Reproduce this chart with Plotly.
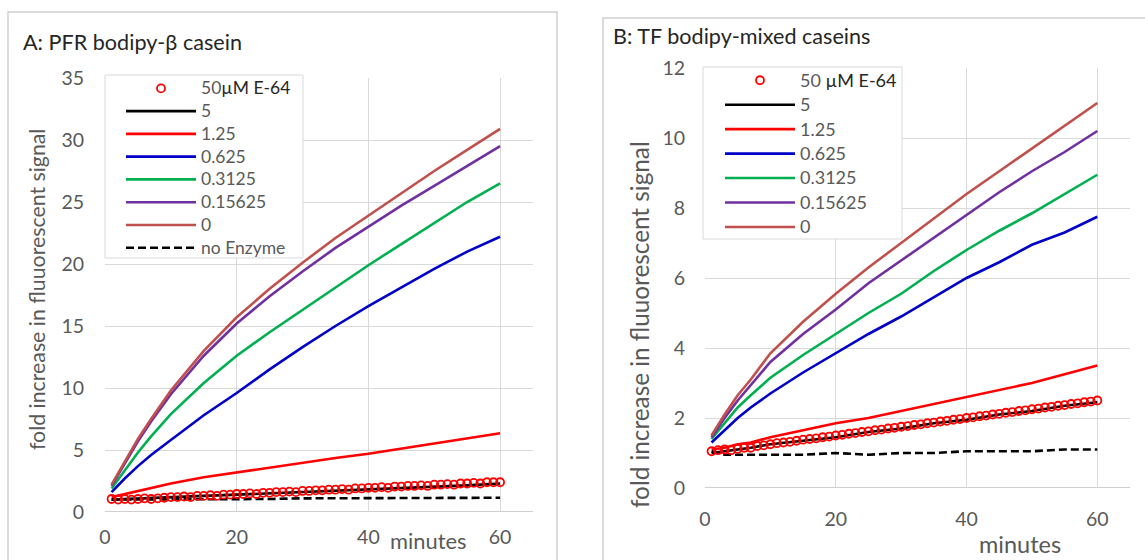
import plotly.graph_objects as go

# ---------------- data ----------------
minutes_lines = [1, 3, 5, 7, 10, 15, 20, 25, 30, 35, 40, 45, 50, 55, 60]
minutes_circles = list(range(1, 61))

series_names = ["5", "1.25", "0.625", "0.3125", "0.15625", "0"]
series_colors = ["#000000", "#FF0000", "#0000C8", "#00B050", "#7030A0", "#C0504D"]

# Panel A: PFR bodipy-beta casein
a_5 = [1.0, 1.05, 1.1, 1.15, 1.2, 1.3, 1.4, 1.5, 1.6, 1.7, 1.85, 1.95, 2.05, 2.15, 2.3]
a_1_25 = [1.2, 1.45, 1.7, 1.95, 2.3, 2.8, 3.2, 3.55, 3.95, 4.35, 4.7, 5.1, 5.5, 5.9, 6.35]
a_0_625 = [1.6, 2.7, 3.7, 4.6, 5.8, 7.8, 9.6, 11.5, 13.3, 15.0, 16.6, 18.1, 19.6, 21.0, 22.2]
a_0_3125 = [1.9, 3.4, 4.8, 6.1, 7.9, 10.4, 12.6, 14.5, 16.3, 18.1, 19.9, 21.6, 23.3, 25.0, 26.5]
a_0_15625 = [2.1, 3.9, 5.7, 7.3, 9.5, 12.6, 15.2, 17.4, 19.4, 21.3, 23.0, 24.7, 26.3, 27.9, 29.5]
a_0 = [2.2, 4.1, 5.9, 7.5, 9.8, 13.0, 15.7, 18.0, 20.1, 22.1, 23.9, 25.7, 27.5, 29.2, 30.9]
a_no_enzyme = [1.0, 1.0, 1.0, 1.0, 1.0, 1.05, 1.05, 1.05, 1.1, 1.1, 1.1, 1.1, 1.15, 1.15, 1.15]
a_e64 = [1.05, 1.0, 1.05, 1.0, 1.05, 1.1, 1.05, 1.1, 1.15, 1.2,
         1.2, 1.25, 1.2, 1.3, 1.3, 1.35, 1.3, 1.4, 1.4, 1.45,
         1.45, 1.5, 1.45, 1.55, 1.55, 1.6, 1.6, 1.65, 1.6, 1.7,
         1.7, 1.75, 1.75, 1.8, 1.8, 1.85, 1.8, 1.9, 1.9, 1.95,
         1.95, 2.0, 1.95, 2.05, 2.05, 2.1, 2.1, 2.15, 2.1, 2.2,
         2.2, 2.25, 2.2, 2.3, 2.3, 2.35, 2.3, 2.4, 2.4, 2.4]

# Panel B: TF bodipy-mixed caseins
b_5 = [1.0, 1.05, 1.1, 1.15, 1.25, 1.35, 1.45, 1.6, 1.7, 1.85, 1.95, 2.1, 2.2, 2.35, 2.45]
b_1_25 = [1.1, 1.15, 1.25, 1.3, 1.45, 1.65, 1.85, 2.0, 2.2, 2.4, 2.6, 2.8, 3.0, 3.25, 3.5]
b_0_625 = [1.3, 1.65, 2.0, 2.3, 2.7, 3.3, 3.85, 4.4, 4.9, 5.45, 6.0, 6.45, 6.95, 7.3, 7.75]
b_0_3125 = [1.4, 1.85, 2.3, 2.65, 3.15, 3.8, 4.4, 5.0, 5.55, 6.2, 6.8, 7.35, 7.85, 8.4, 8.95]
b_0_15625 = [1.45, 2.0, 2.5, 2.95, 3.6, 4.4, 5.1, 5.85, 6.5, 7.15, 7.8, 8.45, 9.05, 9.6, 10.2]
b_0 = [1.5, 2.1, 2.65, 3.1, 3.85, 4.75, 5.55, 6.3, 7.0, 7.7, 8.4, 9.05, 9.7, 10.35, 11.0]
b_no_enzyme = [1.05, 0.95, 0.95, 0.95, 0.95, 0.95, 1.0, 0.95, 1.0, 1.0, 1.05, 1.05, 1.05, 1.1, 1.1]
b_e64 = [1.05, 1.08, 1.1, 1.08, 1.12, 1.15, 1.15, 1.2, 1.22, 1.25,
         1.28, 1.3, 1.32, 1.35, 1.38, 1.4, 1.42, 1.45, 1.47, 1.5,
         1.52, 1.55, 1.57, 1.6, 1.62, 1.65, 1.67, 1.7, 1.72, 1.75,
         1.77, 1.8, 1.82, 1.85, 1.87, 1.9, 1.92, 1.95, 1.97, 2.0,
         2.02, 2.05, 2.07, 2.1, 2.12, 2.15, 2.17, 2.2, 2.22, 2.25,
         2.27, 2.3, 2.32, 2.35, 2.37, 2.4, 2.42, 2.45, 2.47, 2.5]

a_lines = [a_5, a_1_25, a_0_625, a_0_3125, a_0_15625, a_0]
b_lines = [b_5, b_1_25, b_0_625, b_0_3125, b_0_15625, b_0]

a_ticks_y = [0, 5, 10, 15, 20, 25, 30, 35]
b_ticks_y = [0, 2, 4, 6, 8, 10, 12]
ticks_x = [0, 20, 40, 60]

W, H = 1145, 560
FONT = "Lato"
GRAY = "#595959"
DARK = "#262626"
GRID = "#D9D9D9"


def px_x(p):
    return p / W


def px_y(p):
    return 1 - p / H


def big(txt, size):
    return "<span style='font-size:%spx'>%s</span>" % (size, txt)


fig = go.Figure()

panels = [
    ("x", "y", "legend", a_lines, a_no_enzyme, a_e64,
     "50<span style='color:#262626'>µM E-64</span>", True, 17.5),
    ("x2", "y2", "legend2", b_lines, b_no_enzyme, b_e64,
     "50 <span style='color:#262626'>µM E-64</span>", False, 18),
]

for xa, ya, lg, lines, noenz, e64, e64name, show_noenz, lfs in panels:
    for i, (name, col, vals) in enumerate(zip(series_names, series_colors, lines)):
        fig.add_trace(go.Scatter(
            x=minutes_lines, y=vals, mode="lines", name=big(name, lfs),
            line=dict(color=col, width=2.6), xaxis=xa, yaxis=ya,
            legend=lg, legendrank=10 + i))
    fig.add_trace(go.Scatter(
        x=minutes_lines, y=noenz, mode="lines", name=big("no Enzyme", lfs),
        line=dict(color="#000000", width=2.6, dash="8px,4px"), xaxis=xa, yaxis=ya,
        legend=lg, legendrank=30, showlegend=show_noenz))
    fig.add_trace(go.Scatter(
        x=minutes_circles, y=e64, mode="markers", name=big(e64name, lfs),
        marker=dict(symbol="circle-open", size=8, color="#FF0000", line=dict(width=1.8)),
        xaxis=xa, yaxis=ya, legend=lg, legendrank=1))

axis_common = dict(showgrid=True, gridcolor=GRID, gridwidth=1, zeroline=False,
                   showline=False, ticks="outside", tickcolor="rgba(0,0,0,0)",
                   color=GRAY, fixedrange=True, tickfont=dict(size=19.5))

fig.update_layout(
    width=W, height=H,
    margin=dict(l=0, r=0, t=0, b=0, pad=0, autoexpand=False),
    paper_bgcolor="white", plot_bgcolor="white",
    font=dict(family=FONT, color=GRAY, size=17),
    xaxis=dict(domain=[px_x(105), px_x(533)], range=[0, 65], tickvals=ticks_x,
               anchor="y", ticklen=8, **axis_common),
    yaxis=dict(domain=[px_y(512), px_y(78)], range=[0, 35], tickvals=a_ticks_y,
               anchor="x", ticklen=16, **axis_common),
    xaxis2=dict(domain=[px_x(705), px_x(1130)], range=[0, 65], tickvals=ticks_x,
                anchor="y2", ticklen=14, **axis_common),
    yaxis2=dict(domain=[px_y(488), px_y(68)], range=[0, 12], tickvals=b_ticks_y,
                anchor="x2", ticklen=15, **axis_common),
    legend=dict(x=px_x(121), y=px_y(72), xanchor="left", yanchor="top",
                bgcolor="rgba(0,0,0,0)", borderwidth=0, itemwidth=70,
                font=dict(family=FONT, size=15.2, color=GRAY), traceorder="normal"),
    legend2=dict(x=px_x(720), y=px_y(63), xanchor="left", yanchor="top",
                 bgcolor="rgba(0,0,0,0)", borderwidth=0, itemwidth=70,
                 font=dict(family=FONT, size=16.5, color=GRAY), traceorder="normal"),
    showlegend=True,
)

# x-axis baselines
fig.add_shape(type="line", xref="x domain", yref="y", x0=0, x1=1, y0=0, y1=0,
              line=dict(color="#BFBFBF", width=1.3), layer="below")
fig.add_shape(type="line", xref="x2 domain", yref="y2", x0=0, x1=1, y0=0, y1=0,
              line=dict(color="#BFBFBF", width=1.3), layer="below")

# legend boxes (white, drawn over plot lines)
fig.add_shape(type="rect", xref="paper", yref="paper",
              x0=px_x(105), x1=px_x(303), y0=px_y(258), y1=px_y(75),
              fillcolor="white", line=dict(color=GRID, width=1), layer="above")
fig.add_shape(type="rect", xref="paper", yref="paper",
              x0=px_x(703), x1=px_x(902), y0=px_y(239), y1=px_y(67),
              fillcolor="white", line=dict(color=GRID, width=1), layer="above")

# outer chart borders
fig.add_shape(type="rect", xref="paper", yref="paper",
              x0=px_x(8), x1=px_x(557), y0=-0.05, y1=px_y(12),
              line=dict(color="#D0D0D0", width=1.5))
fig.add_shape(type="rect", xref="paper", yref="paper",
              x0=px_x(603), x1=px_x(1160), y0=-0.05, y1=px_y(18),
              line=dict(color="#D0D0D0", width=1.5))

ann = [
    dict(text="A: PFR bodipy-β casein", x=px_x(21), y=px_y(42), xanchor="left", yanchor="middle",
         font=dict(size=21.6, color=DARK)),
    dict(text="B: TF bodipy-mixed caseins", x=px_x(611), y=px_y(36), xanchor="left", yanchor="middle",
         font=dict(size=21.6, color=DARK)),
    dict(text="fold increase in fluuorescent signal", x=px_x(37), y=px_y(290), textangle=-90,
         xanchor="center", yanchor="middle", font=dict(size=21.3, color=GRAY)),
    dict(text="fold increase in fluuorescent signal", x=px_x(639), y=px_y(325), textangle=-90,
         xanchor="center", yanchor="middle", font=dict(size=24.3, color=GRAY)),
    dict(text="minutes", x=px_x(428), y=px_y(540), xanchor="center", yanchor="middle",
         font=dict(size=21.9, color=GRAY)),
    dict(text="minutes", x=px_x(1020), y=px_y(544), xanchor="center", yanchor="middle",
         font=dict(size=23.5, color=GRAY)),
]
for a in ann:
    fig.add_annotation(xref="paper", yref="paper", showarrow=False, **a)

fig.write_html("out.html", config={"displayModeBar": False},
               post_script="document.body.style.margin='0';document.body.style.overflow='hidden';")
